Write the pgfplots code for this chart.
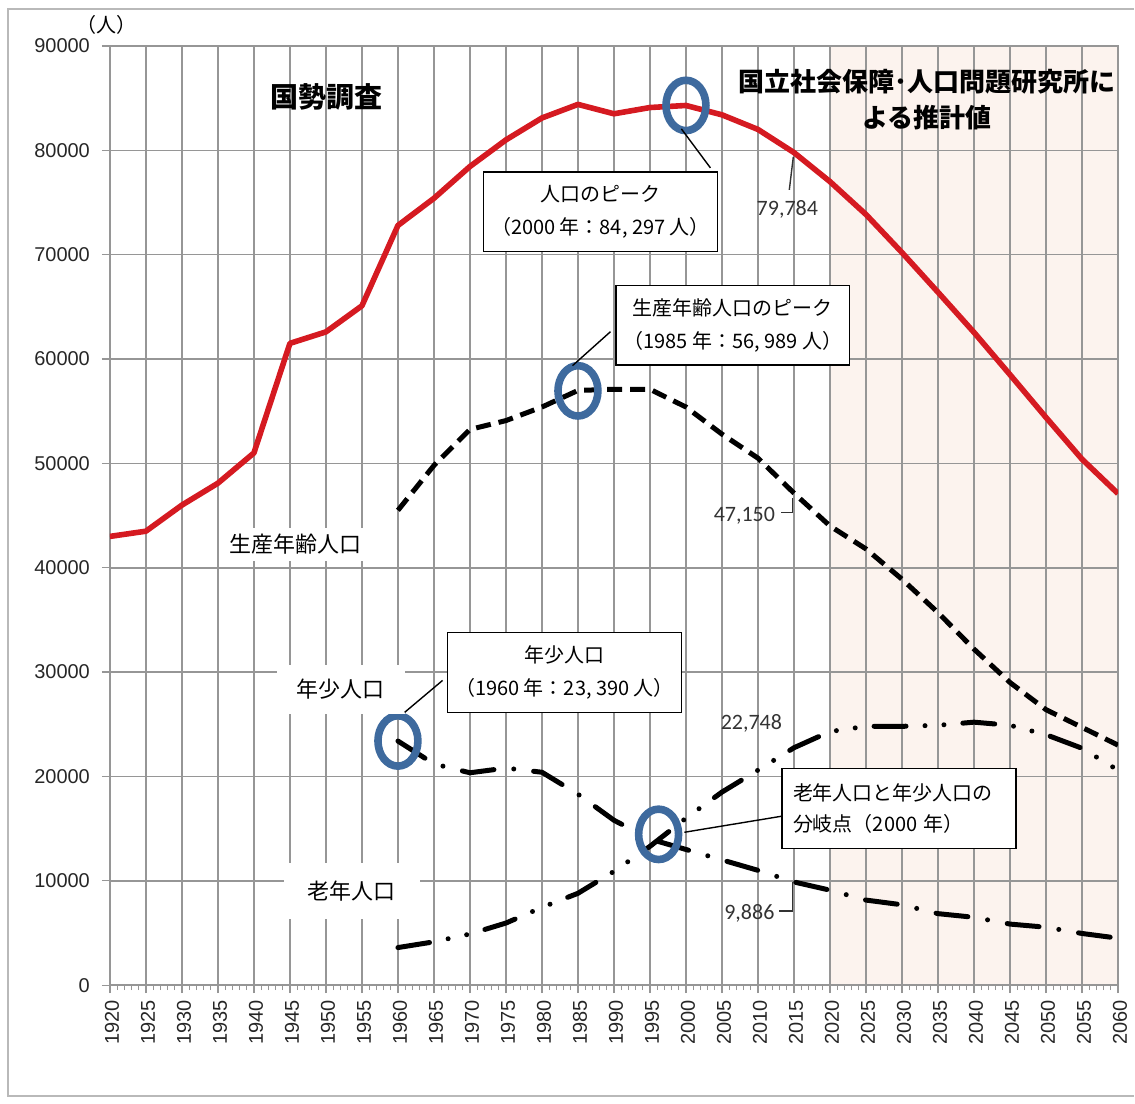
\documentclass[border=0pt]{standalone}
\usepackage{pgfplots}
\pgfplotsset{compat=1.18}
\usepackage{fontspec}
\setmainfont{Liberation Sans}
\newfontfamily\jp{Noto Sans CJK JP}
\newfontfamily\carlito{Carlito}

\definecolor{totred}{RGB}{213,26,33}
\definecolor{circblue}{RGB}{62,106,158}
\definecolor{projfill}{RGB}{252,243,238}
\definecolor{gridgray}{RGB}{150,150,150}

\pgfplotstableread{
year total
1920 43000
1925 43500
1930 46000
1935 48100
1940 51000
1945 61500
1950 62600
1955 65100
1960 72800
1965 75400
1970 78450
1975 81000
1980 83100
1985 84400
1990 83500
1995 84100
2000 84297
2005 83400
2010 82000
2015 79784
2020 77000
2025 73850
2030 70200
2035 66400
2040 62550
2045 58500
2050 54400
2055 50400
2060 47100
}\totaltab

\pgfplotstableread{
year working
1960 45500
1965 49800
1970 53250
1975 54100
1980 55400
1985 56989
1990 57100
1995 57100
2000 55400
2005 52800
2010 50500
2015 47150
2020 44000
2025 41800
2030 38900
2035 35700
2040 32200
2045 29000
2050 26400
2055 24700
2060 23000
}\workingtab

\pgfplotstableread{
year youth
1960 23390
1965 21200
1970 20350
1975 20800
1980 20400
1985 18300
1990 15800
1995 14000
2000 13000
2005 12000
2010 11000
2015 9886
2020 9100
2025 8150
2030 7700
2035 6850
2040 6500
2045 5850
2050 5550
2055 4950
2060 4500
}\youthtab

\pgfplotstableread{
year elderly
1960 3600
1965 4150
1970 4900
1975 5950
1980 7450
1985 8800
1990 10900
1995 13300
2000 16000
2005 18500
2010 20600
2015 22748
2020 24300
2025 24800
2030 24800
2035 24900
2040 25200
2045 24900
2050 24000
2055 22700
2060 20600
}\elderlytab

\begin{document}
\begin{tikzpicture}
\begin{axis}[
  set layers,
  scale only axis,
  width=504.5pt, height=470pt,
  at={(55pt,59pt)}, anchor=south west,
  xmin=1920, xmax=2060, ymin=0, ymax=90000,
  xtick={1920,1925,...,2060},
  minor x tick num=4,
  ytick={0,10000,...,90000},
  xmajorgrids, ymajorgrids,
  major grid style={gridgray, line width=0.8pt},
  axis line style={gridgray, line width=0.8pt},
  tick style={gridgray, line width=0.6pt},
  tick align=outside,
  xtick pos=bottom, ytick pos=left,
  major tick length=4pt, minor tick length=2.5pt,
  scaled y ticks=false,
  /pgf/number format/1000 sep={},
  /pgf/number format/assume math mode=true,
  tick label style={font=\fontsize{10}{12}\selectfont, text=black!85},
  y tick label style={xshift=-2.5pt},
  x tick label style={rotate=90, anchor=east, yshift=-1pt},
]
% projection period background
\addplot[on layer=axis background, fill=projfill, draw=none, forget plot]
  coordinates {(2020,0) (2020,90000) (2060,90000) (2060,0)} \closedcycle;

\addplot[totred, line width=2.8pt, line join=round] table[x=year, y=total] {\totaltab};
\addplot[black, line width=2.5pt, dash pattern=on 7.5pt off 4pt] table[x=year, y=working] {\workingtab};
\addplot[black, line width=2.5pt, line cap=round,
  dash pattern=on 16pt off 10pt on 0pt off 10pt] table[x=year, y=youth] {\youthtab};
\addplot[black, line width=2.5pt, line cap=round,
  dash pattern=on 16pt off 9.5pt on 0pt off 9.5pt on 0pt off 9.5pt] table[x=year, y=elderly] {\elderlytab};

% highlighted points
\addplot[only marks, mark=o, mark size=10pt, line width=3.8pt, circblue,
  mark options={yscale=1.26, line width=3.8pt, draw=circblue, fill=none}, forget plot]
  coordinates {(2000,84300) (1985,56950) (1960,23400) (1996.2,14450)};
\end{axis}

\begin{scope}[x=0.5pt, y=-0.5pt, yshift=552pt]
  \path (0,0) rectangle (1135,1104);
  \draw[gray!55, line width=1pt] (1135,9) -- (8,9) -- (8,1097) -- (1135,1097);

  \node[font=\jp\fontsize{10}{12}\selectfont] at (107,25) {（人）};

  \node[font=\jp\bfseries\fontsize{14}{16}\selectfont] at (327,97) {国勢調査};
  \node[font=\jp\bfseries\fontsize{13}{18}\selectfont, align=center] at (928,100)
    {国立社会保障･人口問題研究所に\\よる推計値};

  \tikzset{serlab/.style={fill=white, font=\jp\fontsize{11}{13}\selectfont}}
  \node[serlab, inner xsep=4pt, inner ysep=3pt] at (296,545) {生産年齢人口};
  \node[serlab, inner xsep=10pt, inner ysep=7pt] at (341,690) {年少人口};
  \node[serlab, inner xsep=12pt, inner ysep=9pt] at (352,892) {老年人口};

  \tikzset{numlab/.style={font=\carlito\fontsize{11}{13}\selectfont, text=black!80}}
  \node[numlab] at (788,210) {79,784};
  \draw[black!80, line width=0.7pt] (794,157) -- (790,190);
  \node[numlab] at (745,516) {47,150};
  \draw[black!80, line width=0.7pt] (782,513) -- (793,513) -- (793,498);
  \node[numlab] at (752,724) {22,748};
  \node[numlab] at (750,914) {9,886};
  \draw[black!80, line width=0.7pt] (780,912) -- (793,912) -- (793,883);

  \tikzset{box/.style={draw=black, fill=white, line width=0.7pt,
    font=\jp\fontsize{10}{16.5}\selectfont, align=center,
    minimum width=117pt, minimum height=40pt, inner sep=2pt}}
  \draw[line width=0.7pt] (711,168) -- (682,129);
  \node[box] at (601,212) {人口のピーク\\（2000 年：84, 297 人）};
  \draw[line width=0.7pt] (611,332) -- (573,366);
  \node[box] at (733.5,325.5) {生産年齢人口のピーク\\（1985 年：56, 989 人）};
  \draw[line width=0.7pt] (443,681) -- (405,713);
  \node[box] at (565,673) {年少人口\\（1960 年：23, 390 人）};
  \draw[line width=0.7pt] (782,817) -- (685,833);
  \node[box, align=left, text width=106pt, inner xsep=5.5pt, minimum height=40pt,
    font=\jp\fontsize{10}{15.5}\selectfont, anchor=west] at (782,809)
    {老年人口と年少人口の\\分岐点（2000 年）};
\end{scope}
\end{tikzpicture}
\end{document}
